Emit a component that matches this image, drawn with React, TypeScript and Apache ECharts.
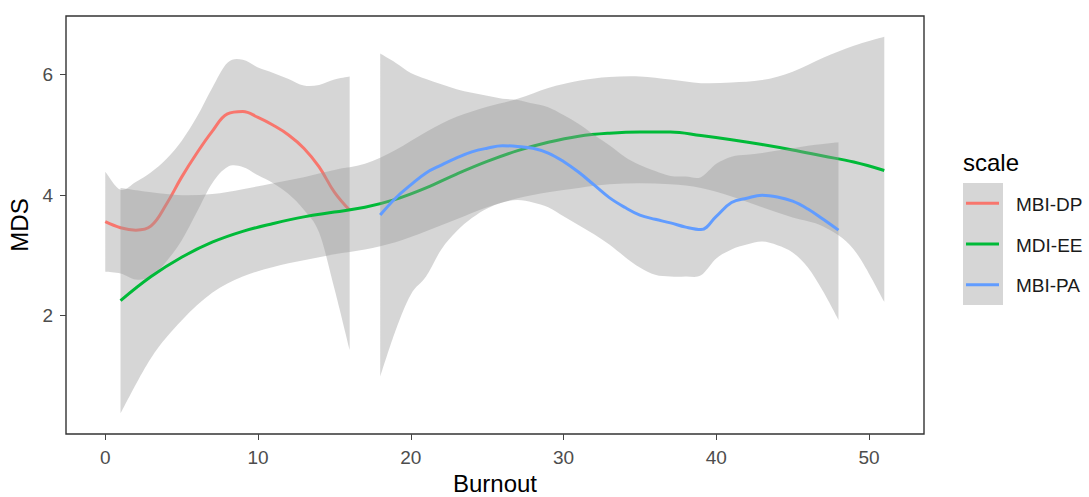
import React, { useEffect, useRef } from "react";
import * as echarts from "echarts";

// ---- data ----
const xTicks = [0, 10, 20, 30, 40, 50];
const yTicks = [2, 4, 6];

// MBI-DP (red) : Burnout 0..16
const dpX = [0, 1, 2, 3, 4, 5, 6, 7, 8, 9, 10, 11, 12, 13, 14, 15, 16];
const dpFit = [3.56, 3.46, 3.42, 3.49, 3.85, 4.3, 4.7, 5.06, 5.35, 5.39, 5.29, 5.16, 5.0, 4.78, 4.47, 4.05, 3.75];
const dpHi = [4.39, 4.09, 4.22, 4.38, 4.6, 4.9, 5.3, 5.78, 6.2, 6.25, 6.12, 6.03, 5.93, 5.82, 5.83, 5.92, 5.97];
const dpLo = [2.73, 2.7, 2.6, 2.65, 2.9, 3.25, 3.72, 4.2, 4.47, 4.47, 4.33, 4.2, 4.02, 3.76, 3.38, 2.45, 1.43];

// MDI-EE (green) : Burnout 1..51
const eeX = [1, 3, 5, 7, 9, 11, 13, 15, 17, 19, 21, 23, 25, 27, 29, 31, 33, 35, 37, 39, 41, 43, 45, 47, 49, 51];
const eeFit = [2.25, 2.65, 2.97, 3.22, 3.4, 3.53, 3.64, 3.72, 3.8, 3.93, 4.12, 4.35, 4.56, 4.74, 4.88, 4.98, 5.03, 5.05, 5.05, 4.99, 4.92, 4.84, 4.75, 4.65, 4.55, 4.41];
const eeHi = [4.12, 4.05, 4.0, 4.02, 4.1, 4.2, 4.3, 4.42, 4.52, 4.75, 5.05, 5.3, 5.47, 5.6, 5.78, 5.9, 5.96, 5.97, 5.92, 5.86, 5.87, 5.91, 6.05, 6.28, 6.48, 6.63];
const eeLo = [0.38, 1.3, 1.92, 2.38, 2.65, 2.81, 2.92, 3.02, 3.1, 3.22, 3.4, 3.6, 3.8, 3.95, 4.05, 4.12, 4.18, 4.2, 4.18, 4.12, 3.98, 3.8, 3.63, 3.48, 3.1, 2.23];

// MBI-PA (blue) : Burnout 18..48
const paX = [18, 19, 20, 21, 22, 23, 24, 25, 26, 27, 28, 29, 30, 31, 32, 33, 34, 35, 36, 37, 38, 39, 40, 41, 42, 43, 44, 45, 46, 47, 48];
const paFit = [3.67, 3.95, 4.17, 4.37, 4.5, 4.62, 4.72, 4.78, 4.82, 4.81, 4.78, 4.7, 4.56, 4.38, 4.17, 3.96, 3.8, 3.67, 3.6, 3.54, 3.47, 3.43, 3.65, 3.88, 3.95, 4.0, 3.97, 3.9, 3.77, 3.6, 3.42];
const paHi = [6.35, 6.2, 6.03, 5.93, 5.84, 5.76, 5.7, 5.65, 5.6, 5.58, 5.52, 5.46, 5.33, 5.18, 5.0, 4.83, 4.64, 4.5, 4.4, 4.32, 4.31, 4.3, 4.52, 4.64, 4.67, 4.7, 4.74, 4.78, 4.82, 4.85, 4.88];
const paLo = [0.99, 1.75, 2.35, 2.65, 3.1, 3.4, 3.62, 3.78, 3.88, 3.92, 3.88, 3.8, 3.65, 3.5, 3.35, 3.18, 2.98, 2.8, 2.68, 2.65, 2.65, 2.67, 2.95, 3.1, 3.18, 3.23, 3.17, 3.05, 2.8, 2.4, 1.93];

const scaleNames = ["MBI-DP", "MDI-EE", "MBI-PA"];
const scaleColors = ["#F8766D", "#00BA38", "#619CFF"];

const FONT = "Liberation Sans, Arial, sans-serif";
const BAND = "rgba(153,153,153,0.4)";

// Catmull-Rom -> cubic bezier segments through pixel points
function smoothSeg(pts: number[][]): string {
  let d = "";
  for (let i = 0; i < pts.length - 1; i++) {
    const p0 = pts[Math.max(i - 1, 0)];
    const p1 = pts[i];
    const p2 = pts[i + 1];
    const p3 = pts[Math.min(i + 2, pts.length - 1)];
    const c1x = p1[0] + (p2[0] - p0[0]) / 6;
    const c1y = p1[1] + (p2[1] - p0[1]) / 6;
    const c2x = p2[0] - (p3[0] - p1[0]) / 6;
    const c2y = p2[1] - (p3[1] - p1[1]) / 6;
    d += ` C${c1x} ${c1y} ${c2x} ${c2y} ${p2[0]} ${p2[1]}`;
  }
  return d;
}

function groupSeries(name: string, color: string, xs: number[], fit: number[], lo: number[], hi: number[], z: number) {
  return [
    {
      type: "custom",
      name: name + " band",
      data: xs.map((x, i) => [x, lo[i], hi[i]]),
      encode: { x: 0, y: [1, 2] },
      silent: true,
      z,
      renderItem: (params: any, api: any) => {
        if (params.dataIndex !== 0) return null;
        const top = xs.map((x, i) => api.coord([x, hi[i]]));
        const bot = xs.map((x, i) => api.coord([x, lo[i]])).reverse();
        const d =
          `M${top[0][0]} ${top[0][1]}` +
          smoothSeg(top) +
          ` L${bot[0][0]} ${bot[0][1]}` +
          smoothSeg(bot) +
          " Z";
        return {
          type: "path",
          shape: { pathData: d },
          style: { fill: BAND, stroke: "none" },
        };
      },
    },
    {
      type: "line",
      name,
      data: xs.map((x, i) => [x, fit[i]]),
      symbol: "none",
      smooth: 0.4,
      lineStyle: { color, width: 3 },
      z: z + 1,
    },
  ];
}

export default function App() {
  const ref = useRef<HTMLDivElement>(null);
  useEffect(() => {
    if (!ref.current) return;
    const chart = echarts.init(ref.current, null, { renderer: "svg" });
    const legendX = 963;
    const legendTop = 183;
    const keyH = 40.7;
    const graphics: any[] = [
      {
        type: "text",
        left: legendX,
        top: 162 - 12,
        style: { text: "scale", fontSize: 24, fontFamily: FONT, fill: "#000" },
      },
      {
        type: "rect",
        shape: { x: legendX, y: legendTop, width: 40, height: keyH * 3 },
        style: { fill: "#D6D6D6" },
        z: 1,
      },
    ];
    scaleNames.forEach((n, i) => {
      const cy = legendTop + keyH * (i + 0.5);
      graphics.push({
        type: "line",
        shape: { x1: legendX + 3, y1: cy, x2: legendX + 36, y2: cy },
        style: { stroke: scaleColors[i], lineWidth: 3 },
        z: 2,
      });
      graphics.push({
        type: "text",
        x: 1016,
        y: cy + 1,
        style: { text: n, fontSize: 19, fontFamily: FONT, fill: "#1A1A1A", verticalAlign: "middle", align: "left" },
        z: 2,
      });
    });

    chart.setOption({
      animation: false,
      backgroundColor: "#FFFFFF",
      grid: {
        left: 66,
        top: 16,
        width: 858,
        height: 418,
        show: true,
        borderColor: "#333333",
        borderWidth: 1.4,
        backgroundColor: "transparent",
        outerBoundsMode: "none",
        containLabel: false,
      },
      xAxis: {
        type: "value",
        min: -2.57,
        max: 53.6,
        axisLine: { show: false, onZero: false },
        splitLine: { show: false },
        axisTick: { show: true, length: 6, customValues: xTicks, lineStyle: { color: "#444444", width: 1 } },
        axisLabel: { customValues: xTicks, fontSize: 19, color: "#4D4D4D", fontFamily: FONT, margin: 14 },
        name: "Burnout",
        nameLocation: "middle",
        nameGap: 37,
        nameTextStyle: { fontSize: 24, color: "#000", fontFamily: FONT },
      },
      yAxis: {
        type: "value",
        min: 0.037,
        max: 6.974,
        axisLine: { show: false, onZero: false },
        splitLine: { show: false },
        axisTick: { show: true, length: 6, customValues: yTicks, lineStyle: { color: "#444444", width: 1 } },
        axisLabel: { customValues: yTicks, fontSize: 19, color: "#4D4D4D", fontFamily: FONT, margin: 13 },
        name: "MDS",
        nameLocation: "middle",
        nameGap: 34,
        nameRotate: 90,
        nameTextStyle: { fontSize: 24, color: "#000", fontFamily: FONT },
      },
      series: [
        ...groupSeries(scaleNames[0], scaleColors[0], dpX, dpFit, dpLo, dpHi, 2),
        ...groupSeries(scaleNames[1], scaleColors[1], eeX, eeFit, eeLo, eeHi, 4),
        ...groupSeries(scaleNames[2], scaleColors[2], paX, paFit, paLo, paHi, 6),
      ],
      graphic: graphics,
    });
    return () => chart.dispose();
  }, []);
  return (
    <div
      ref={ref}
      style={{ position: "fixed", left: 0, top: 0, width: 1089, height: 497, background: "#fff" }}
    />
  );
}
